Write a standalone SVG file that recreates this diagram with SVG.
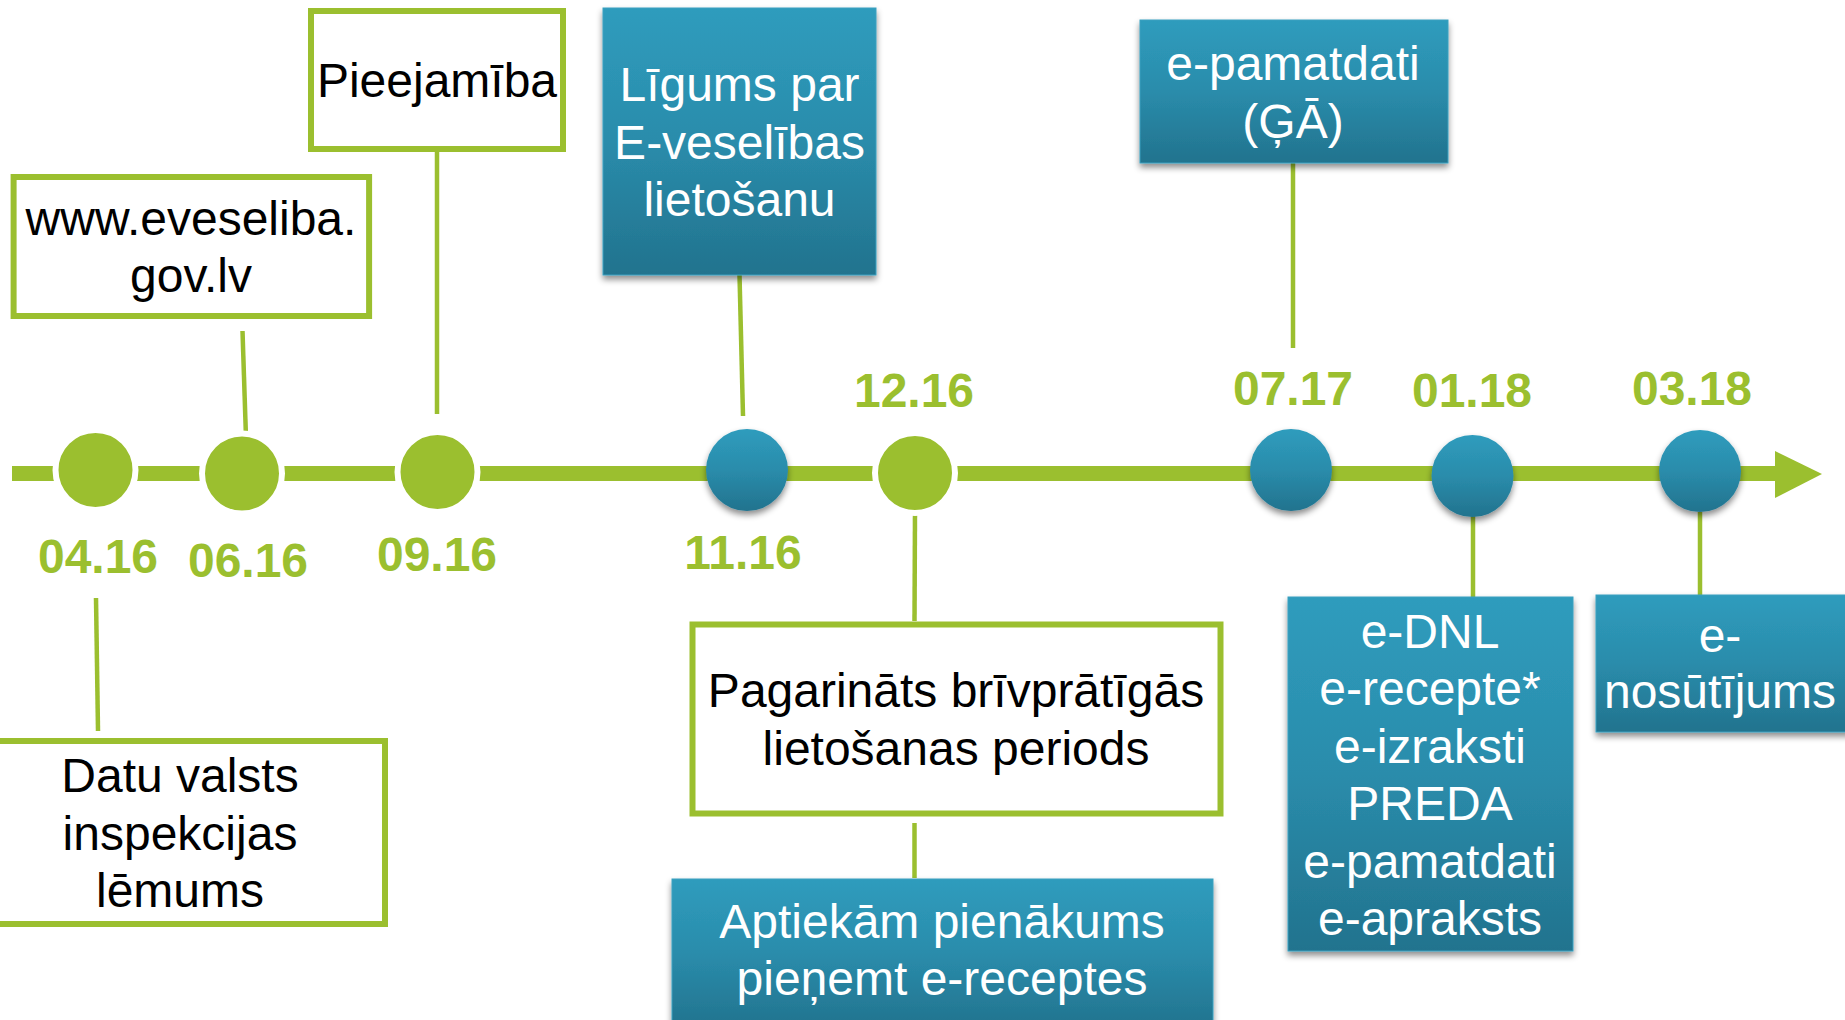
<svg xmlns="http://www.w3.org/2000/svg" width="1845" height="1020" viewBox="0 0 1845 1020">
<defs>
<linearGradient id="bg" x1="0" y1="0" x2="0" y2="1">
<stop offset="0" stop-color="#2f9cbd"/>
<stop offset="0.5" stop-color="#2a8cab"/>
<stop offset="1" stop-color="#22738e"/>
</linearGradient>
<filter id="sh" x="-20%" y="-20%" width="140%" height="150%">
<feDropShadow dx="0" dy="4" stdDeviation="3" flood-color="#000" flood-opacity="0.45"/>
</filter>
<style>
.wbox{fill:#fff;stroke:#9bbf2f;stroke-width:6}
.bbox{fill:url(#bg);stroke:#3aa0bf;stroke-width:1;filter:url(#sh)}
.conn{stroke:#9bbf2f;stroke-width:4.5;fill:none}
.tl{stroke:#9bbf2f;stroke-width:15;fill:none}
.gdot{fill:#9bbf2f;stroke:#fff;stroke-width:6}
.bdot{fill:url(#bg);filter:url(#sh)}
.date{font-family:"Liberation Sans",Arial,sans-serif;font-weight:bold;font-size:48px;fill:#9bbf2f;text-anchor:middle}
.bt{font-family:"Liberation Sans",Arial,sans-serif;font-size:48px;fill:#000;text-anchor:middle}
.wt{font-family:"Liberation Sans",Arial,sans-serif;font-size:48px;fill:#fff;text-anchor:middle}
</style>
</defs>
<rect width="1845" height="1020" fill="#fff"/>

<g id="connectors">
<line class="tl" x1="12" y1="473.5" x2="1778" y2="473.5"/>
<polygon points="1775,451 1822,474 1775,498" fill="#9bbf2f"/>
<line class="conn" x1="96" y1="598" x2="98" y2="731"/>
<line class="conn" x1="242.5" y1="331" x2="246" y2="438"/>
<line class="conn" x1="437" y1="152" x2="437" y2="414"/>
<line class="conn" x1="739.5" y1="275" x2="743" y2="416"/>
<line class="conn" x1="915" y1="511" x2="914.5" y2="621"/>
<line class="conn" x1="914.5" y1="823" x2="914.5" y2="878"/>
<line class="conn" x1="1293" y1="163" x2="1293" y2="348"/>
<line class="conn" x1="1473" y1="516" x2="1473" y2="597"/>
<line class="conn" x1="1700" y1="512" x2="1700" y2="595"/>
</g>

<g id="dot-0416"><circle class="gdot" cx="95.5" cy="470" r="40"/></g>
<g id="dot-0616"><circle class="gdot" cx="242" cy="473.5" r="40"/></g>
<g id="dot-0916"><circle class="gdot" cx="437.5" cy="472" r="40"/></g>
<g id="dot-1116"><circle class="bdot" cx="747" cy="470" r="41"/></g>
<g id="dot-1216"><circle class="gdot" cx="915" cy="473" r="40"/></g>
<g id="dot-0717"><circle class="bdot" cx="1291" cy="470" r="41"/></g>
<g id="dot-0118"><circle class="bdot" cx="1472.5" cy="476" r="41"/></g>
<g id="dot-0318"><circle class="bdot" cx="1700" cy="471" r="41"/></g>

<g id="dates">
<text class="date" x="98" y="573">04.16</text>
<text class="date" x="248" y="577">06.16</text>
<text class="date" x="437" y="571">09.16</text>
<text class="date" x="743" y="569">11.16</text>
<text class="date" x="914" y="407">12.16</text>
<text class="date" x="1293" y="405">07.17</text>
<text class="date" x="1472" y="407">01.18</text>
<text class="date" x="1692" y="405">03.18</text>
</g>

<g id="box-www">
<rect class="wbox" x="13.6" y="177" width="355.5" height="139"/>
<text class="bt" x="191" y="235">www.eveseliba.</text>
<text class="bt" x="191" y="292">gov.lv</text>
</g>

<g id="box-pieejamiba">
<rect class="wbox" x="311" y="11" width="252" height="138"/>
<text class="bt" x="437" y="97">Pieejamība</text>
</g>

<g id="box-ligums">
<rect class="bbox" x="603" y="8" width="273" height="267"/>
<text class="wt" x="739.5" y="101">Līgums par</text>
<text class="wt" x="739.5" y="159">E-veselības</text>
<text class="wt" x="739.5" y="216">lietošanu</text>
</g>

<g id="box-epamatdati">
<rect class="bbox" x="1140" y="20" width="308" height="143"/>
<text class="wt" x="1293" y="80">e-pamatdati</text>
<text class="wt" x="1293" y="138">(ĢĀ)</text>
</g>

<g id="box-datu">
<rect class="wbox" x="-10" y="741" width="395" height="183"/>
<text class="bt" x="180" y="792">Datu valsts</text>
<text class="bt" x="180" y="850">inspekcijas</text>
<text class="bt" x="180" y="907">lēmums</text>
</g>

<g id="box-pagarinats">
<rect class="wbox" x="692.5" y="624.5" width="528" height="189"/>
<text class="bt" x="956" y="707">Pagarināts brīvprātīgās</text>
<text class="bt" x="956" y="765">lietošanas periods</text>
</g>

<g id="box-aptiekam">
<rect class="bbox" x="672" y="879" width="541" height="150"/>
<text class="wt" x="942" y="938">Aptiekām pienākums</text>
<text class="wt" x="942" y="995">pieņemt e-receptes</text>
</g>

<g id="box-ednl">
<rect class="bbox" x="1288" y="597" width="285" height="354"/>
<text class="wt" x="1430" y="648">e-DNL</text>
<text class="wt" x="1430" y="705">e-recepte*</text>
<text class="wt" x="1430" y="763">e-izraksti</text>
<text class="wt" x="1430" y="820">PREDA</text>
<text class="wt" x="1430" y="878">e-pamatdati</text>
<text class="wt" x="1430" y="935">e-apraksts</text>
</g>

<g id="box-enosutijums">
<rect class="bbox" x="1596" y="595" width="260" height="137"/>
<text class="wt" x="1720" y="652">e-</text>
<text class="wt" x="1720" y="708">nosūtījums</text>
</g>
</svg>
